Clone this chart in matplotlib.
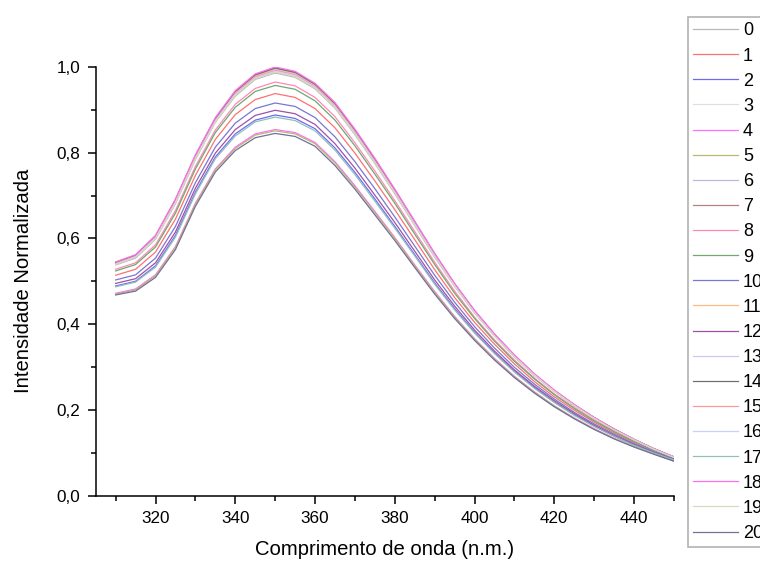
import matplotlib
matplotlib.use("Agg")
import matplotlib.pyplot as plt
from matplotlib.ticker import MultipleLocator, FuncFormatter

plt.rcParams['font.family'] = ['Liberation Sans', 'DejaVu Sans']

# wavelength grid (nm)
wavelength = [310, 315, 320, 325, 330, 335, 340, 345, 350, 355, 360, 365, 370, 375, 380,
              385, 390, 395, 400, 405, 410, 415, 420, 425, 430, 435, 440, 445, 450]

# normalized emission spectra, one list per sample
curve_00 = [.538, .554, .598, .681, .784, .871, .932, .971, .986, .976, .949, .904, .842, .775, .704, .630, .556, .488, .426, .372, .323, .280, .243, .209, .180, .153, .129, .108, .089]
curve_01 = [.514, .528, .568, .645, .747, .831, .889, .924, .938, .929, .903, .858, .799, .734, .667, .597, .527, .462, .404, .353, .307, .266, .230, .199, .171, .146, .124, .104, .086]
curve_02 = [.489, .500, .536, .607, .708, .790, .844, .876, .888, .880, .856, .811, .754, .692, .628, .562, .496, .436, .381, .333, .290, .252, .218, .188, .162, .138, .118, .100, .083]
curve_03 = [.543, .560, .605, .689, .792, .879, .941, .980, .996, .986, .958, .913, .851, .784, .712, .637, .563, .493, .430, .375, .327, .283, .245, .211, .181, .154, .130, .109, .090]
curve_04 = [.472, .482, .515, .581, .682, .762, .813, .844, .854, .847, .824, .779, .723, .663, .602, .538, .476, .418, .366, .320, .278, .242, .209, .181, .156, .133, .114, .097, .081]
curve_05 = [.470, .480, .513, .579, .680, .760, .810, .841, .851, .844, .821, .776, .720, .660, .600, .536, .474, .416, .365, .318, .277, .241, .209, .180, .155, .133, .114, .097, .080]
curve_06 = [.543, .559, .604, .688, .791, .878, .941, .979, .995, .985, .957, .912, .851, .783, .711, .637, .562, .492, .430, .375, .326, .283, .245, .211, .181, .154, .130, .109, .090]
curve_07 = [.544, .560, .605, .690, .793, .880, .942, .981, .997, .987, .959, .914, .852, .785, .713, .638, .563, .493, .431, .376, .327, .283, .245, .211, .181, .155, .131, .109, .090]
curve_08 = [.528, .543, .585, .665, .768, .853, .913, .950, .965, .956, .929, .884, .823, .757, .688, .616, .544, .477, .416, .363, .316, .274, .237, .205, .176, .150, .127, .106, .088]
curve_09 = [.524, .539, .580, .659, .762, .847, .906, .943, .957, .948, .921, .876, .816, .750, .682, .610, .539, .472, .413, .360, .313, .272, .235, .203, .174, .149, .126, .105, .087]
curve_10 = [.503, .515, .554, .628, .730, .813, .869, .903, .916, .908, .882, .837, .779, .716, .650, .582, .514, .451, .394, .344, .299, .260, .225, .194, .167, .143, .121, .102, .085]
curve_11 = [.542, .559, .603, .687, .790, .877, .940, .978, .994, .984, .956, .911, .850, .782, .710, .636, .561, .492, .429, .375, .326, .282, .245, .211, .181, .154, .130, .108, .090]
curve_12 = [.495, .506, .543, .615, .717, .799, .854, .887, .899, .891, .866, .821, .764, .701, .637, .570, .503, .442, .386, .337, .293, .255, .221, .191, .164, .140, .119, .100, .084]
curve_13 = [.542, .558, .603, .687, .790, .876, .939, .977, .993, .983, .955, .910, .849, .781, .710, .635, .561, .491, .429, .374, .326, .282, .244, .211, .181, .154, .130, .108, .090]
curve_14 = [.544, .561, .606, .690, .793, .880, .943, .982, .998, .988, .960, .915, .853, .785, .713, .639, .564, .494, .431, .376, .327, .283, .245, .212, .182, .155, .131, .109, .090]
curve_15 = [.541, .558, .602, .686, .789, .875, .938, .976, .992, .982, .954, .909, .848, .780, .709, .634, .560, .491, .428, .374, .325, .282, .244, .210, .181, .154, .130, .108, .090]
curve_16 = [.540, .557, .601, .684, .787, .874, .936, .974, .990, .980, .952, .907, .846, .778, .707, .633, .559, .490, .427, .373, .325, .281, .244, .210, .180, .154, .130, .108, .089]
curve_17 = [.487, .498, .533, .603, .704, .786, .839, .872, .883, .875, .851, .806, .749, .687, .624, .559, .493, .433, .379, .331, .288, .250, .217, .187, .161, .138, .117, .099, .083]
curve_18 = [.545, .562, .607, .692, .795, .882, .945, .984, 1.000, .990, .962, .917, .855, .787, .715, .640, .565, .495, .432, .377, .328, .284, .246, .212, .182, .155, .131, .109, .090]
curve_19 = [.539, .556, .600, .683, .786, .872, .934, .973, .988, .978, .951, .906, .844, .777, .706, .632, .558, .489, .427, .372, .324, .281, .243, .210, .180, .153, .130, .108, .089]
curve_20 = [.468, .477, .509, .574, .675, .755, .805, .835, .845, .838, .815, .770, .715, .655, .595, .532, .470, .413, .362, .316, .275, .239, .207, .179, .154, .132, .113, .096, .080]

curves = [curve_00, curve_01, curve_02, curve_03, curve_04, curve_05, curve_06,
          curve_07, curve_08, curve_09, curve_10, curve_11, curve_12, curve_13,
          curve_14, curve_15, curve_16, curve_17, curve_18, curve_19, curve_20]
labels = [str(i) for i in range(21)]

colors = ['#b8b8b8', '#ff7070', '#6c6cf0', '#d8e4dc', '#ff70ff', '#b8b870', '#b8b8e0',
          '#b88080', '#ff88b8', '#70a870', '#7878d0', '#ffb880', '#a050a8', '#c8c8f8',
          '#707070', '#ff9898', '#c8d0ff', '#90c0b8', '#ff70f0', '#d8d8c0', '#707098']

fig = plt.figure(figsize=(7.6, 5.61), dpi=100)
ax = fig.add_axes([95.7 / 760, 65.5 / 561, (674 - 95.7) / 760, (495.5 - 67) / 561])

for y, lab, c in zip(curves, labels, colors):
    ax.plot(wavelength, y, color=c, lw=0.9, label=lab)

ax.set_xlim(305, 450)
ax.set_ylim(0, 1.0)

ax.xaxis.set_major_locator(MultipleLocator(20))
ax.xaxis.set_minor_locator(MultipleLocator(10))
ax.yaxis.set_major_locator(MultipleLocator(0.2))
ax.yaxis.set_minor_locator(MultipleLocator(0.1))
ax.yaxis.set_major_formatter(FuncFormatter(lambda v, p: f"{v:.1f}".replace('.', ',')))

for side in ['top', 'right']:
    ax.spines[side].set_visible(False)
for side in ['left', 'bottom']:
    ax.spines[side].set_linewidth(1.1)

ax.tick_params(which='major', direction='out', length=6, width=1.1, labelsize=12.3, pad=5)
ax.tick_params(which='minor', direction='out', length=3.5, width=1.1)

ax.set_xlabel("Comprimento de onda (n.m.)", fontsize=14.6, labelpad=10)
ax.set_ylabel("Intensidade Normalizada", fontsize=14.6, labelpad=17)

leg = fig.legend(loc='upper left', bbox_to_anchor=(688 / 760, 1 - 17 / 561),
                 fontsize=13, frameon=True, fancybox=False, borderaxespad=0,
                 handlelength=2.45, handletextpad=0.3, labelspacing=0.45,
                 borderpad=0.3)
leg.get_frame().set_edgecolor('#a0a0a0')
leg.get_frame().set_linewidth(1.2)

fig.savefig("out.png", dpi=100)
